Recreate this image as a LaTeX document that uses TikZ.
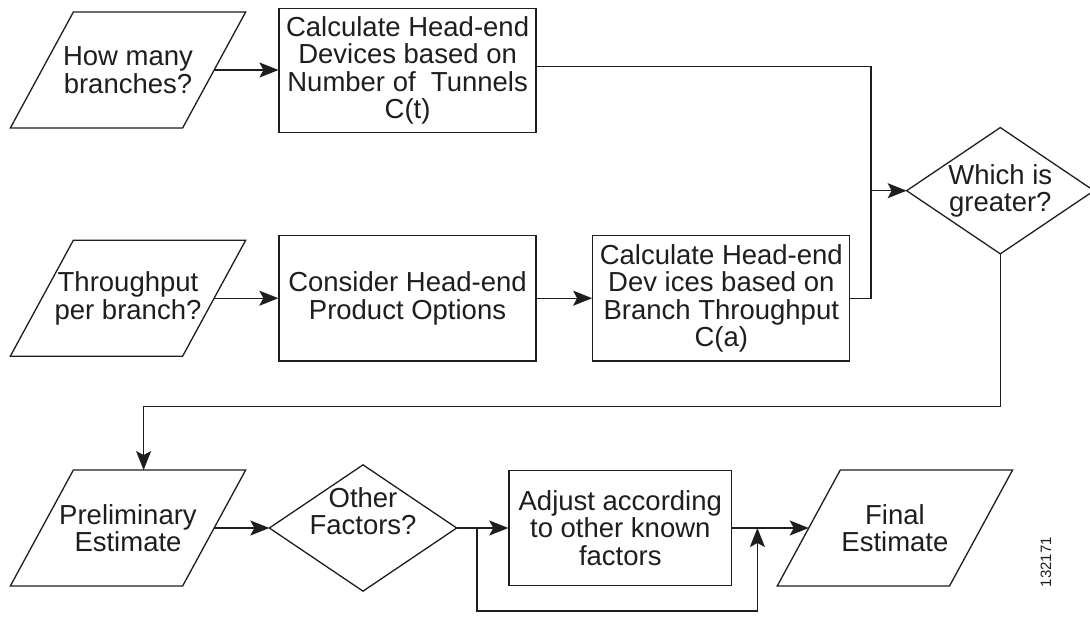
\documentclass[tikz,border=0pt]{standalone}
\usepackage{fontspec}
\setmainfont{Liberation Sans}
\usetikzlibrary{arrows.meta,calc}
\definecolor{ink}{HTML}{1E1E1E}
\begin{document}
\begin{tikzpicture}[x=1pt,y=-1pt,
  color=ink, line width=1.3pt,
  every node/.style={inner sep=0pt, align=center, font=\fontsize{27.5}{27.5}\selectfont},
  proc/.style={draw, minimum width=257pt, minimum height=125.5pt},
  io/.style={minimum width=171pt, minimum height=114.6pt},
  dec/.style={minimum width=186pt, minimum height=125pt},
  arr/.style={-{Stealth[length=19pt,width=15pt,inset=4pt]}}]

\fill[white] (0,0) rectangle (1090,616);
\useasboundingbox (0,0) rectangle (1090,616);

% process boxes, inputs/outputs and decisions
\node[io] (p1) at (128,70) {How many\\branches?};
\node[proc, minimum height=124.4pt] (b1) at (407.6,70.5) {Calculate Head-end\\Devices based on\\Number of\ \ Tunnels\\C(t)};
\node[io] (p2) at (128,298.2) {Throughput\\per branch?};
\node[proc] (b2) at (407.5,298.2) {Consider Head-end\\Product Options};
\node[proc] (b3) at (721.3,298.3) {Calculate Head-end\\Dev ices based on\\Branch Throughput\\C(a)};
\node[dec] (d1) at (1000.3,190.7) {Which is\\greater?};
\node[io] (p3) at (128,528) {Preliminary\\Estimate};
\node[dec] (d2) at (363,528) {};
\node (d2t) at (363,511) {Other\\Factors?};
\node[proc, minimum width=222.7pt, minimum height=114.6pt] (b4) at (620.3,528) {Adjust according\\to other known\\factors};
\node[io] (p4) at (894.9,528) {Final\\Estimate};
\node[rotate=90, font=\fontsize{15}{15}\selectfont] (tag) at (1046,562) {132171};

% parallelogram outlines
\foreach \n in {p1,p2,p3,p4}
  \draw ([xshift=31.5pt]\n.north west) -- ([xshift=31.5pt]\n.north east)
        -- ([xshift=-31.5pt]\n.south east) -- ([xshift=-31.5pt]\n.south west) -- cycle;
% diamond outlines
\foreach \n in {d1,d2}
  \draw (\n.north) -- (\n.east) -- (\n.south) -- (\n.west) -- cycle;

% connectors
\draw[arr] (p1.east) -- (p1.east -| b1.west);
\draw[arr] (p2.east) -- (p2.east -| b2.west);
\draw[arr] (b2.east) -- (b2.east -| b3.west);
\coordinate (jn) at (871,190.7);
\draw ([yshift=3.8pt]b1.east) -| (jn);
\draw (b3.east) -| (jn);
\draw[arr] (jn) -- (d1.west);
\coordinate (tr) at (143.6,406.5);
\draw[arr] (d1.south) |- (tr) -- (tr |- p3.north);
\draw[arr] (p3.east) -- (d2.west);
\draw[arr] (d2.east) -- (b4.west);
\coordinate (br) at (477,528);
\coordinate (mg) at (757.4,528);
\coordinate (bt) at (757.4,611);
\draw[arr] (br) |- (bt) -- (mg);
\draw[arr] (b4.east) -- (p4.west);
\end{tikzpicture}
\end{document}
